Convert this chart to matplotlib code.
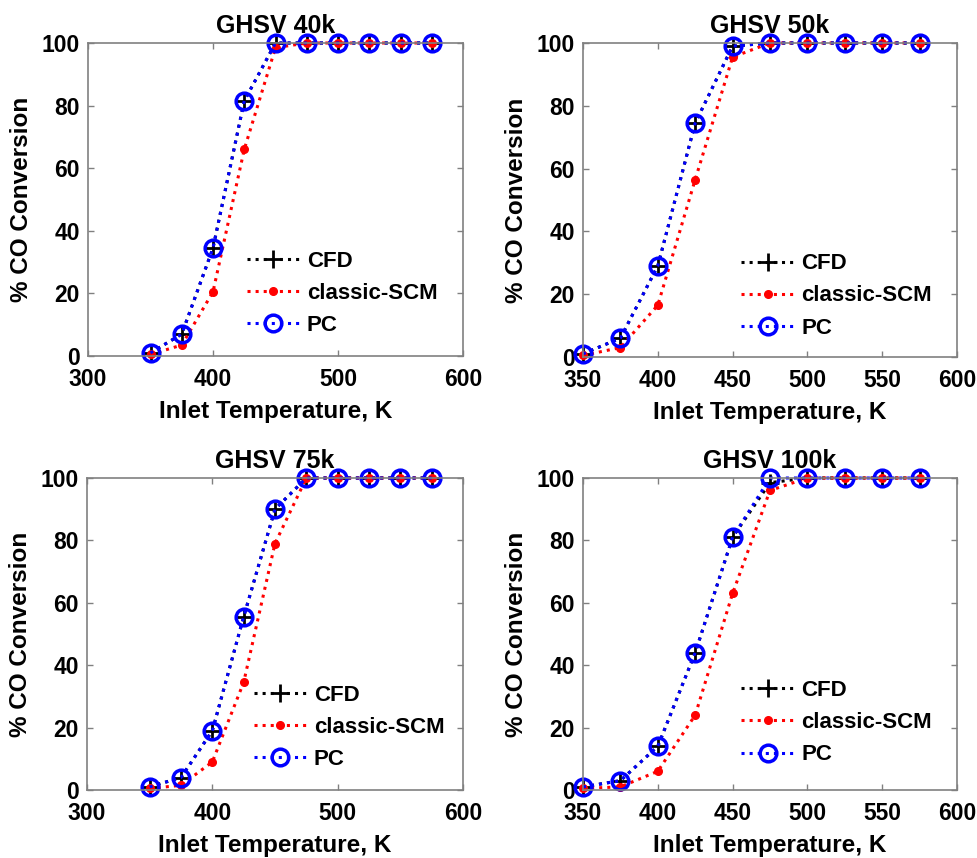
import matplotlib
matplotlib.use('Agg')
import matplotlib.pyplot as plt
from matplotlib.ticker import MultipleLocator

plt.rcParams['font.family'] = ['Liberation Sans', 'DejaVu Sans']
plt.rcParams['font.weight'] = 'bold'

# inlet temperature, K
temp = [350, 375, 400, 425, 450, 475, 500, 525, 550, 575]

titles = ['GHSV 40k', 'GHSV 50k', 'GHSV 75k', 'GHSV 100k']

# % CO conversion
cfd_40 = [1.0, 7.0, 34.5, 81.5, 100, 100, 100, 100, 100, 100]
scm_40 = [0.5, 3.5, 20.5, 66.0, 98.5, 100, 100, 100, 100, 100]
pc_40 = [1.0, 7.0, 34.5, 81.5, 100, 100, 100, 100, 100, 100]

cfd_50 = [1.0, 6.0, 29.0, 74.5, 99.0, 100, 100, 100, 100, 100]
scm_50 = [0.5, 3.0, 16.5, 56.5, 95.5, 100, 100, 100, 100, 100]
pc_50 = [1.0, 6.0, 29.0, 74.5, 99.0, 100, 100, 100, 100, 100]

cfd_75 = [1.0, 4.0, 19.0, 55.5, 90.0, 100, 100, 100, 100, 100]
scm_75 = [0.5, 1.5, 9.0, 34.5, 79.0, 100, 100, 100, 100, 100]
pc_75 = [1.0, 4.0, 19.0, 55.5, 90.0, 100, 100, 100, 100, 100]

cfd_100 = [1.0, 3.0, 14.0, 44.0, 81.0, 98.5, 100, 100, 100, 100]
scm_100 = [0.5, 1.0, 6.0, 24.0, 63.0, 96.0, 100, 100, 100, 100]
pc_100 = [1.0, 3.0, 14.0, 44.0, 81.0, 100, 100, 100, 100, 100]

cfd_all = [cfd_40, cfd_50, cfd_75, cfd_100]
scm_all = [scm_40, scm_50, scm_75, scm_100]
pc_all = [pc_40, pc_50, pc_75, pc_100]

xlims = [(300, 600), (350, 600), (300, 600), (350, 600)]
xsteps = [100, 50, 100, 50]

# axes boxes in pixels (left, top, width, height)
W, H = 977.0, 858.0
boxes = [(88, 43, 375, 313), (583, 43, 374, 314),
         (87, 478, 376, 312), (583, 478, 374, 312)]
leg_anchor = [(0.37, 0.0), (0.37, -0.005), (0.39, 0.0), (0.37, 0.015)]

fig = plt.figure(figsize=(9.77, 8.58), dpi=100)

for i in range(4):
    l, t, w, h = boxes[i]
    ax = fig.add_axes([l / W, 1 - (t + h) / H, w / W, h / H])

    ax.plot(temp, cfd_all[i], ':', color='black', lw=2.2, marker='+',
            ms=13, mew=2.0, label='CFD', clip_on=False)
    ax.plot(temp, scm_all[i], ':', color='red', lw=2.2, marker='o',
            ms=5.5, label='classic-SCM', clip_on=False)
    ax.plot(temp, pc_all[i], ':', color='blue', lw=2.2, marker='o',
            ms=12, mew=2.5, mfc='none', label='PC', clip_on=False)

    ax.set_xlim(xlims[i])
    ax.set_ylim(0, 100)
    ax.xaxis.set_major_locator(MultipleLocator(xsteps[i]))
    ax.yaxis.set_major_locator(MultipleLocator(20))
    ax.tick_params(direction='in', top=True, right=True, labelsize=16.5,
                   length=4, width=1, color='#808080')
    ax.tick_params(axis='x', pad=9)
    ax.tick_params(axis='y', pad=6)
    for s in ax.spines.values():
        s.set_color('#808080')
        s.set_linewidth(1.2)

    ax.set_title(titles[i], fontsize=18, fontweight='bold', pad=7)
    ax.set_xlabel('Inlet Temperature, K', fontsize=17.5, fontweight='bold',
                  labelpad=6)
    ax.set_ylabel('% CO Conversion', fontsize=17.5, fontweight='bold',
                  labelpad=6)

    ax.legend(loc='lower left', bbox_to_anchor=leg_anchor[i], frameon=False,
              handlelength=2.4, handletextpad=0.3, labelspacing=0.5,
              prop={'weight': 'bold', 'size': 16})

fig.savefig('out.png', dpi=100)
